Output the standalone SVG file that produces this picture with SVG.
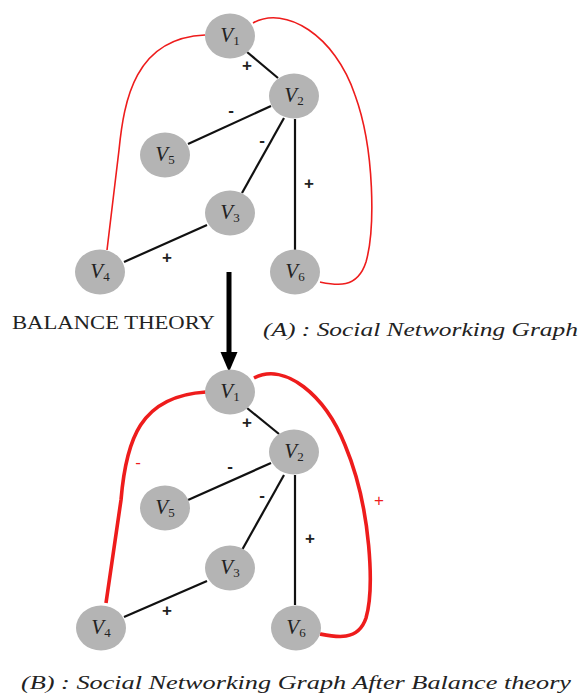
<svg xmlns="http://www.w3.org/2000/svg" width="581" height="695" viewBox="0 0 581 695">
<style>
.node{fill:#b4b4b4}
.lbl{font-family:"Liberation Serif",serif;font-style:italic;font-size:21px;fill:#222;text-anchor:middle}
.sub{font-size:13px;font-style:normal}
.e{stroke:#111;stroke-width:2.2;fill:none}
.r1{stroke:#ee1c1c;stroke-width:1.6;fill:none}
.r2{stroke:#ee1c1c;stroke-width:3.6;fill:none}
.sg{font-family:"Liberation Sans",sans-serif;font-size:17px;font-weight:bold;fill:#222;text-anchor:middle}
.sr{fill:#ee1c1c;font-weight:normal}
.cap{font-family:"Liberation Serif",serif;font-style:italic;font-size:19px;fill:#222}
</style>
<defs>
<marker id="ah" markerWidth="4" markerHeight="4" refX="2" refY="2" orient="auto" markerUnits="strokeWidth">
<path d="M0,0.3 L4,2 L0,3.7 z" fill="#000"/>
</marker>
</defs>
<g id="connectors">
<path class="r1" d="M205,35 C135,38 124,100 119,150 L107,250"/>
<path class="r1" d="M253,23 C285,5 335,35 355,95 C375,150 375,230 366,262 C357,290 335,285 320,282"/>
<line class="e" x1="247" y1="52" x2="278" y2="78"/>
<line class="e" x1="271" y1="106" x2="188" y2="144"/>
<line class="e" x1="284" y1="118" x2="242" y2="193"/>
<line class="e" x1="295" y1="119" x2="295" y2="250"/>
<line class="e" x1="207" y1="225" x2="124" y2="262"/>
<path class="r2" d="M206,392 C140,396 126,440 121,500 L106,603"/>
<path class="r2" d="M254,378 C285,362 325,395 345,445 C372,510 374,590 366,618 C358,642 335,637 320,634"/>
<line class="e" x1="247" y1="408" x2="279" y2="434"/>
<line class="e" x1="271" y1="463" x2="188" y2="500"/>
<line class="e" x1="284" y1="475" x2="242" y2="550"/>
<line class="e" x1="295" y1="475" x2="295" y2="605"/>
<line class="e" x1="207" y1="581" x2="124" y2="617"/>
<line x1="229" y1="272" x2="229" y2="362" stroke="#000" stroke-width="5" marker-end="url(#ah)"/>
</g>
<g id="signs">
<text class="sg" x="247" y="71">+</text>
<text class="sg" x="231" y="116">-</text>
<text class="sg" x="262" y="146">-</text>
<text class="sg" x="309" y="189">+</text>
<text class="sg" x="167" y="263">+</text>
<text class="sg" x="247" y="428">+</text>
<text class="sg" x="230" y="472">-</text>
<text class="sg" x="262" y="501">-</text>
<text class="sg" x="310" y="544">+</text>
<text class="sg" x="167" y="616">+</text>
<text class="sg sr" x="138" y="468">-</text>
<text class="sg sr" x="379" y="506">+</text>
</g>
<g id="A-V1"><ellipse class="node" cx="230" cy="36" rx="25" ry="22.5"/><text class="lbl" x="230" y="42">V<tspan class="sub" dy="3">1</tspan></text></g>
<g id="A-V2"><ellipse class="node" cx="294" cy="96" rx="25" ry="22.5"/><text class="lbl" x="294" y="102">V<tspan class="sub" dy="3">2</tspan></text></g>
<g id="A-V5"><ellipse class="node" cx="165" cy="155" rx="25" ry="22.5"/><text class="lbl" x="165" y="161">V<tspan class="sub" dy="3">5</tspan></text></g>
<g id="A-V3"><ellipse class="node" cx="230" cy="213" rx="25" ry="22.5"/><text class="lbl" x="230" y="219">V<tspan class="sub" dy="3">3</tspan></text></g>
<g id="A-V4"><ellipse class="node" cx="100" cy="272" rx="25" ry="22.5"/><text class="lbl" x="100" y="278">V<tspan class="sub" dy="3">4</tspan></text></g>
<g id="A-V6"><ellipse class="node" cx="295" cy="272" rx="25" ry="22.5"/><text class="lbl" x="295" y="278">V<tspan class="sub" dy="3">6</tspan></text></g>
<g id="B-V1"><ellipse class="node" cx="230" cy="392" rx="25" ry="22.5"/><text class="lbl" x="230" y="398">V<tspan class="sub" dy="3">1</tspan></text></g>
<g id="B-V2"><ellipse class="node" cx="294" cy="452" rx="25" ry="22.5"/><text class="lbl" x="294" y="458">V<tspan class="sub" dy="3">2</tspan></text></g>
<g id="B-V5"><ellipse class="node" cx="165" cy="508" rx="25" ry="22.5"/><text class="lbl" x="165" y="514">V<tspan class="sub" dy="3">5</tspan></text></g>
<g id="B-V3"><ellipse class="node" cx="230" cy="568" rx="25" ry="22.5"/><text class="lbl" x="230" y="574">V<tspan class="sub" dy="3">3</tspan></text></g>
<g id="B-V4"><ellipse class="node" cx="101" cy="628" rx="25" ry="22.5"/><text class="lbl" x="101" y="634">V<tspan class="sub" dy="3">4</tspan></text></g>
<g id="B-V6"><ellipse class="node" cx="296" cy="628" rx="25" ry="22.5"/><text class="lbl" x="296" y="634">V<tspan class="sub" dy="3">6</tspan></text></g>
<g id="captions">
<text x="12" y="329" font-family="Liberation Serif, serif" font-size="19" fill="#222" textLength="203" lengthAdjust="spacingAndGlyphs">BALANCE THEORY</text>
<text class="cap" x="263" y="336" textLength="315" lengthAdjust="spacingAndGlyphs">(A) : Social Networking Graph</text>
<text class="cap" x="21" y="689" textLength="550" lengthAdjust="spacingAndGlyphs">(B) : Social Networking Graph After Balance theory</text>
</g>
</svg>
